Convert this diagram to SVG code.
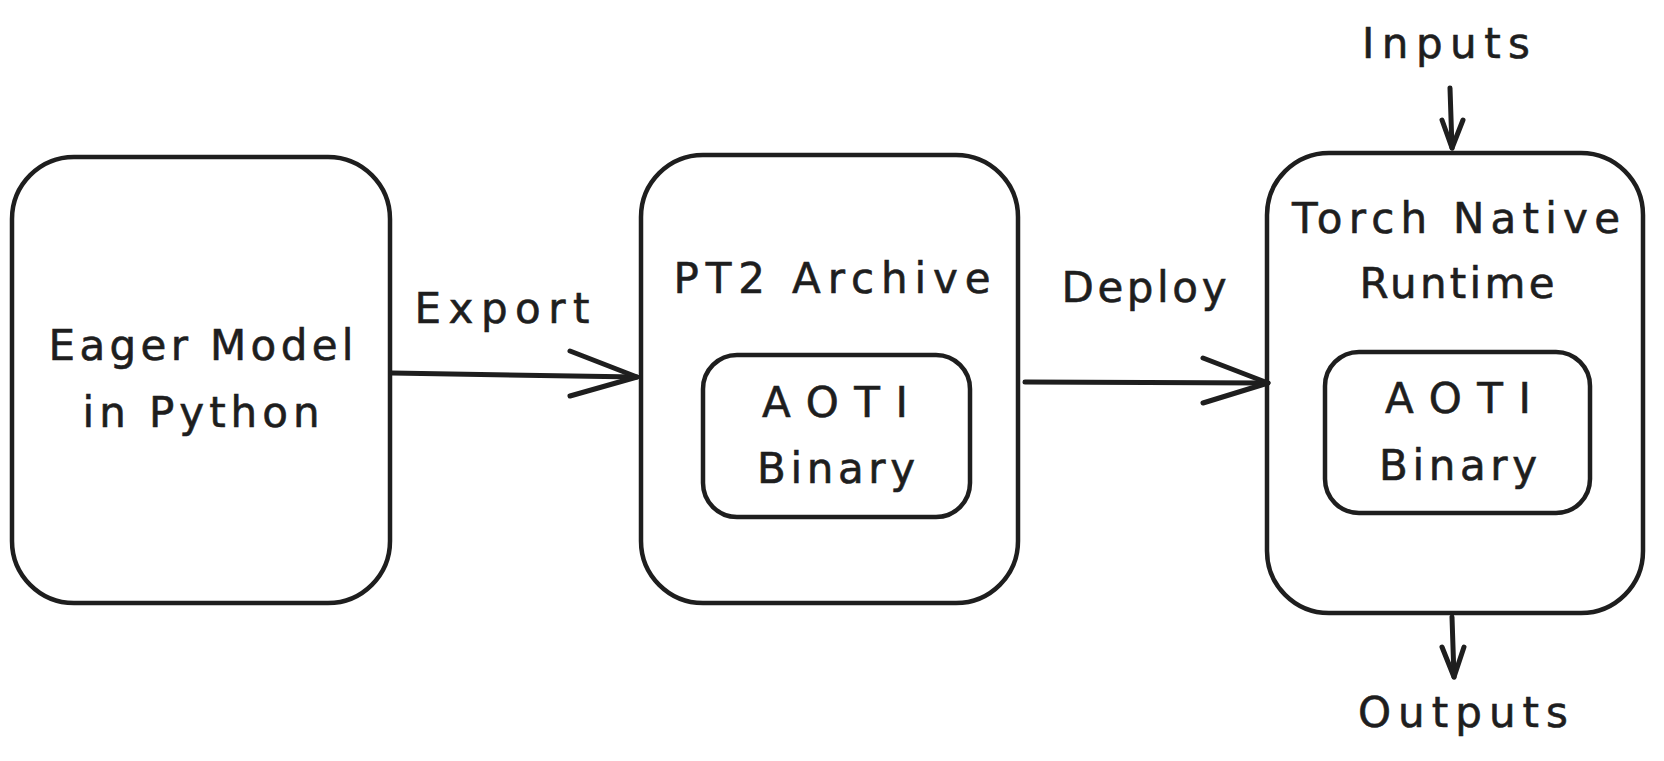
<svg xmlns="http://www.w3.org/2000/svg" width="1664" height="761" viewBox="0 0 1664 761">
<style>
.box{fill:none;stroke:#1e1e1e;stroke-width:4.5}
.inner{fill:none;stroke:#1e1e1e;stroke-width:4.5}
.edge{fill:none;stroke:#1e1e1e;stroke-width:5;stroke-linecap:round;stroke-linejoin:round}
text{font-family:"DejaVu Sans","Liberation Sans",sans-serif;font-size:42px;fill:#1e1e1e;text-anchor:middle;stroke:#1e1e1e;stroke-width:0.6}
</style>
<rect x="0" y="0" width="1664" height="761" fill="#ffffff"/>
<g id="node-eager">
<rect class="box" x="12" y="157" width="378" height="446" rx="62" ry="62"/>
<text x="201" y="360" textLength="305" lengthAdjust="spacing">Eager Model</text>
<text x="201" y="427" textLength="237" lengthAdjust="spacing">in Python</text>
</g>
<g id="node-pt2">
<rect class="box" x="641" y="155" width="377" height="448" rx="62" ry="62"/>
<text x="832" y="293" textLength="317" lengthAdjust="spacing">PT2 Archive</text>
</g>
<g id="node-aoti-1">
<rect class="inner" x="703" y="355" width="267" height="162" rx="34" ry="34"/>
<text x="835" y="417" textLength="146" lengthAdjust="spacing">AOTI</text>
<text x="836" y="483" textLength="158" lengthAdjust="spacing">Binary</text>
</g>
<g id="node-runtime">
<rect class="box" x="1267" y="153" width="376" height="460" rx="62" ry="62"/>
<text x="1456" y="233" textLength="328" lengthAdjust="spacing">Torch Native</text>
<text x="1457" y="298" textLength="195" lengthAdjust="spacing">Runtime</text>
</g>
<g id="node-aoti-2">
<rect class="inner" x="1325" y="352" width="265" height="161" rx="34" ry="34"/>
<text x="1458" y="413" textLength="146" lengthAdjust="spacing">AOTI</text>
<text x="1458" y="480" textLength="158" lengthAdjust="spacing">Binary</text>
</g>
<g id="node-inputs">
<text x="1446" y="58" textLength="168" lengthAdjust="spacing">Inputs</text>
</g>
<g id="node-outputs">
<text x="1463" y="727" textLength="210" lengthAdjust="spacing">Outputs</text>
</g>
<g id="connectors">
<path class="edge" d="M392,373 L637,377"/>
<path class="edge" d="M570,351 L637,377 L570,396"/>
<text x="502" y="323" textLength="175" lengthAdjust="spacing">Export</text>
<path class="edge" d="M1025,382 L1268,383"/>
<path class="edge" d="M1203,358 L1268,383 L1203,403"/>
<text x="1144" y="302" textLength="165" lengthAdjust="spacing">Deploy</text>
<path class="edge" d="M1450,88 L1452,148"/>
<path class="edge" d="M1442,120 L1452,148 L1463,120"/>
<path class="edge" d="M1452,617 L1454,677"/>
<path class="edge" d="M1442,647 L1454,677 L1464,647"/>
</g>
</svg>
